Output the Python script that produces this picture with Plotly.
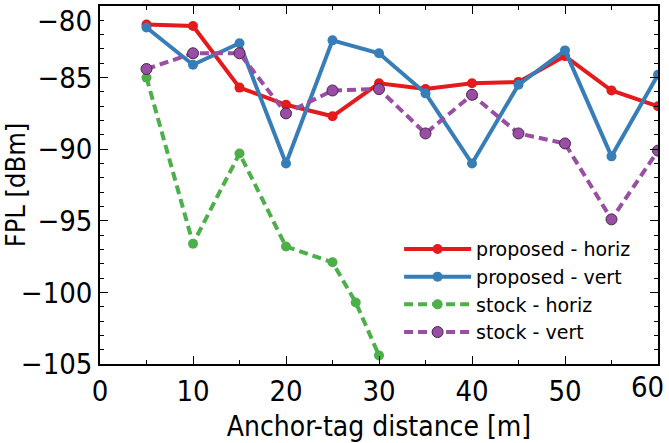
import plotly.graph_objects as go

x_main = [5, 10, 15, 20, 25, 30, 35, 40, 45, 50, 55, 60]
prop_horiz = [-81.3, -81.4, -85.7, -86.9, -87.7, -85.4, -85.8, -85.4, -85.3, -83.5, -85.9, -87.0]
prop_vert = [-81.5, -84.1, -82.6, -91.0, -82.4, -83.3, -86.1, -91.0, -85.5, -83.1, -90.5, -84.8]
stock_vert = [-84.4, -83.3, -83.3, -87.5, -85.9, -85.8, -88.9, -86.2, -88.9, -89.6, -94.9, -90.1]
x_stock_h = [5, 10, 15, 20, 25, 27.5, 30]
stock_horiz = [-85.0, -96.6, -90.3, -96.8, -97.9, -100.7, -104.4]

x_ticks = [0, 10, 20, 30, 40, 50, 60]
y_ticks = [-80, -85, -90, -95, -100, -105]

fig = go.Figure()
fig.add_trace(go.Scatter(x=x_main, y=prop_horiz, name="proposed - horiz", mode="lines+markers",
                         line=dict(color="#e41a1c", width=4), marker=dict(size=10, color="#e41a1c")))
fig.add_trace(go.Scatter(x=x_main, y=prop_vert, name="proposed - vert", mode="lines+markers",
                         line=dict(color="#377eb8", width=4), marker=dict(size=10, color="#377eb8")))
fig.add_trace(go.Scatter(x=x_stock_h, y=stock_horiz, name="stock - horiz", mode="lines+markers",
                         line=dict(color="#4daf4a", width=4, dash="9px,5px"), marker=dict(size=10, color="#4daf4a")))
fig.add_trace(go.Scatter(x=x_main, y=stock_vert, name="stock - vert", mode="lines+markers",
                         line=dict(color="#984ea3", width=4, dash="9px,5px"),
                         marker=dict(size=11, color="#984ea3", line=dict(color="#4a2450", width=1))))

fnt = "DejaVu Sans Condensed, DejaVu Sans, sans-serif"
tickfont = dict(family=fnt, size=29, color="black")

# edge tick labels are nudged inward (as in the reference) via annotations
xt_text = [str(v) for v in x_ticks]
xt_text[-1] = ""
yt_text = ["\u2212" + str(-v) for v in y_ticks]
yt_text[0] = ""

fig.update_layout(
    width=669, height=443,
    margin=dict(l=100, r=11, t=6, b=79),
    paper_bgcolor="white", plot_bgcolor="white",
    showlegend=True,
    legend=dict(x=0.536, y=0.374, xanchor="left", yanchor="top",
                font=dict(family="DejaVu Sans", size=19, color="black"),
                bgcolor="rgba(0,0,0,0)", tracegroupgap=0, itemwidth=67),
    xaxis=dict(range=[0, 60], tickvals=x_ticks, ticktext=xt_text,
               ticks="inside", ticklen=8, tickwidth=1, tickcolor="black",
               minor=dict(ticks="inside", dtick=5, ticklen=4, tickcolor="black"),
               showline=True, linecolor="black", linewidth=1.5, mirror="ticks",
               showgrid=False, zeroline=False, tickfont=tickfont, automargin=False,
               title=dict(text="Anchor-tag distance [m]", font=dict(family=fnt, size=28, color="black"))),
    yaxis=dict(range=[-105, -80], tickvals=y_ticks, ticktext=yt_text,
               ticks="inside", ticklen=8, tickwidth=1, tickcolor="black",
               minor=dict(ticks="inside", dtick=1, ticklen=4, tickcolor="black"),
               showline=True, linecolor="black", linewidth=1.5, mirror="ticks",
               showgrid=False, zeroline=False, tickfont=tickfont, automargin=False,
               title=dict(text="FPL [dBm]", font=dict(family=fnt, size=27, color="black"))),
    annotations=[
        dict(text="\u2212" + str(-y_ticks[0]), xref="paper", yref="paper", x=0, y=1,
             xanchor="right", yanchor="top", xshift=-6, yshift=4, showarrow=False, font=tickfont),
        dict(text=str(x_ticks[-1]), xref="paper", yref="paper", x=1, y=0,
             xanchor="right", yanchor="top", xshift=8, yshift=-4, showarrow=False, font=tickfont),
    ],
)

fig.write_html("out.html", config={"displayModeBar": False},
               post_script="document.body.style.margin='0px';document.body.style.overflow='hidden';")
